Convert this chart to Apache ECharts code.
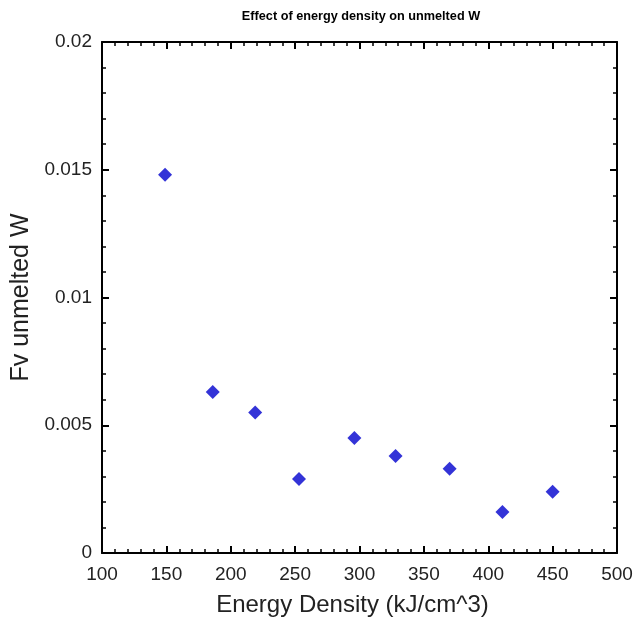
<!DOCTYPE html>
<html>
<head>
<meta charset="utf-8">
<script src="https://cdn.jsdelivr.net/npm/echarts@6/dist/echarts.min.js"></script>
<style>
  html, body { margin: 0; padding: 0; background: #fff; }
  #chart { width: 635px; height: 617px; }
</style>
</head>
<body>
<div id="chart"></div>
<script>
// energy density (kJ/cm^3) vs volume fraction of unmelted W
var energyDensity = [149, 186, 219, 253, 296, 328, 370, 411, 450];
var fvUnmelted = [0.0148, 0.0063, 0.0055, 0.0029, 0.0045, 0.0038, 0.0033, 0.0016, 0.0024];

var font = 'Liberation Sans, Arial, Helvetica, sans-serif';

var points = energyDensity.map(function (x, i) {
  return [x, fvUnmelted[i]];
});

// one side of the box frame, ticks pointing inwards
function frameAxis(pos, isX) {
  return {
    type: 'value',
    position: pos,
    min: isX ? 100 : 0,
    max: isX ? 500 : 0.02,
    interval: isX ? 50 : 0.005,
    axisLine: { show: true, onZero: false, lineStyle: { color: '#000', width: 2 } },
    axisTick: { show: true, inside: true, length: 7, lineStyle: { color: '#000', width: 2 } },
    minorTick: { show: true, splitNumber: 5, length: 4, lineStyle: { color: '#000', width: 1.5 } },
    splitLine: { show: false },
    axisLabel: { show: false }
  };
}

var xMain = frameAxis('bottom', true);
xMain.name = 'Energy Density (kJ/cm^3)';
xMain.nameLocation = 'middle';
xMain.nameGap = 40;
xMain.nameTextStyle = { fontFamily: font, fontSize: 24, color: '#222', padding: [0, 14, 0, 0] };
xMain.axisLabel = { show: true, fontFamily: font, fontSize: 19, color: '#222', margin: 12 };

var yMain = frameAxis('left', false);
yMain.name = 'Fv unmelted W';
yMain.nameLocation = 'middle';
yMain.nameGap = 68;
yMain.nameTextStyle = { fontFamily: font, fontSize: 25, color: '#222' };
yMain.axisLabel = { show: true, fontFamily: font, fontSize: 19, color: '#222', margin: 10 };

var chart = echarts.init(document.getElementById('chart'));
chart.setOption({
  animation: false,
  title: {
    text: 'Effect of energy density on unmelted W',
    left: 356,
    textAlign: 'center',
    top: 5,
    textStyle: { fontFamily: font, fontSize: 12.7, fontWeight: 'bold', color: '#000' }
  },
  grid: { left: 102, right: 18, top: 42, bottom: 64, outerBoundsMode: 'none' },
  xAxis: [xMain, frameAxis('top', true)],
  yAxis: [yMain, frameAxis('right', false)],
  series: [{
    type: 'scatter',
    xAxisIndex: 0,
    yAxisIndex: 0,
    symbol: 'diamond',
    symbolSize: 14,
    itemStyle: { color: '#0000cd' },
    data: points
  }]
});
</script>
</body>
</html>
